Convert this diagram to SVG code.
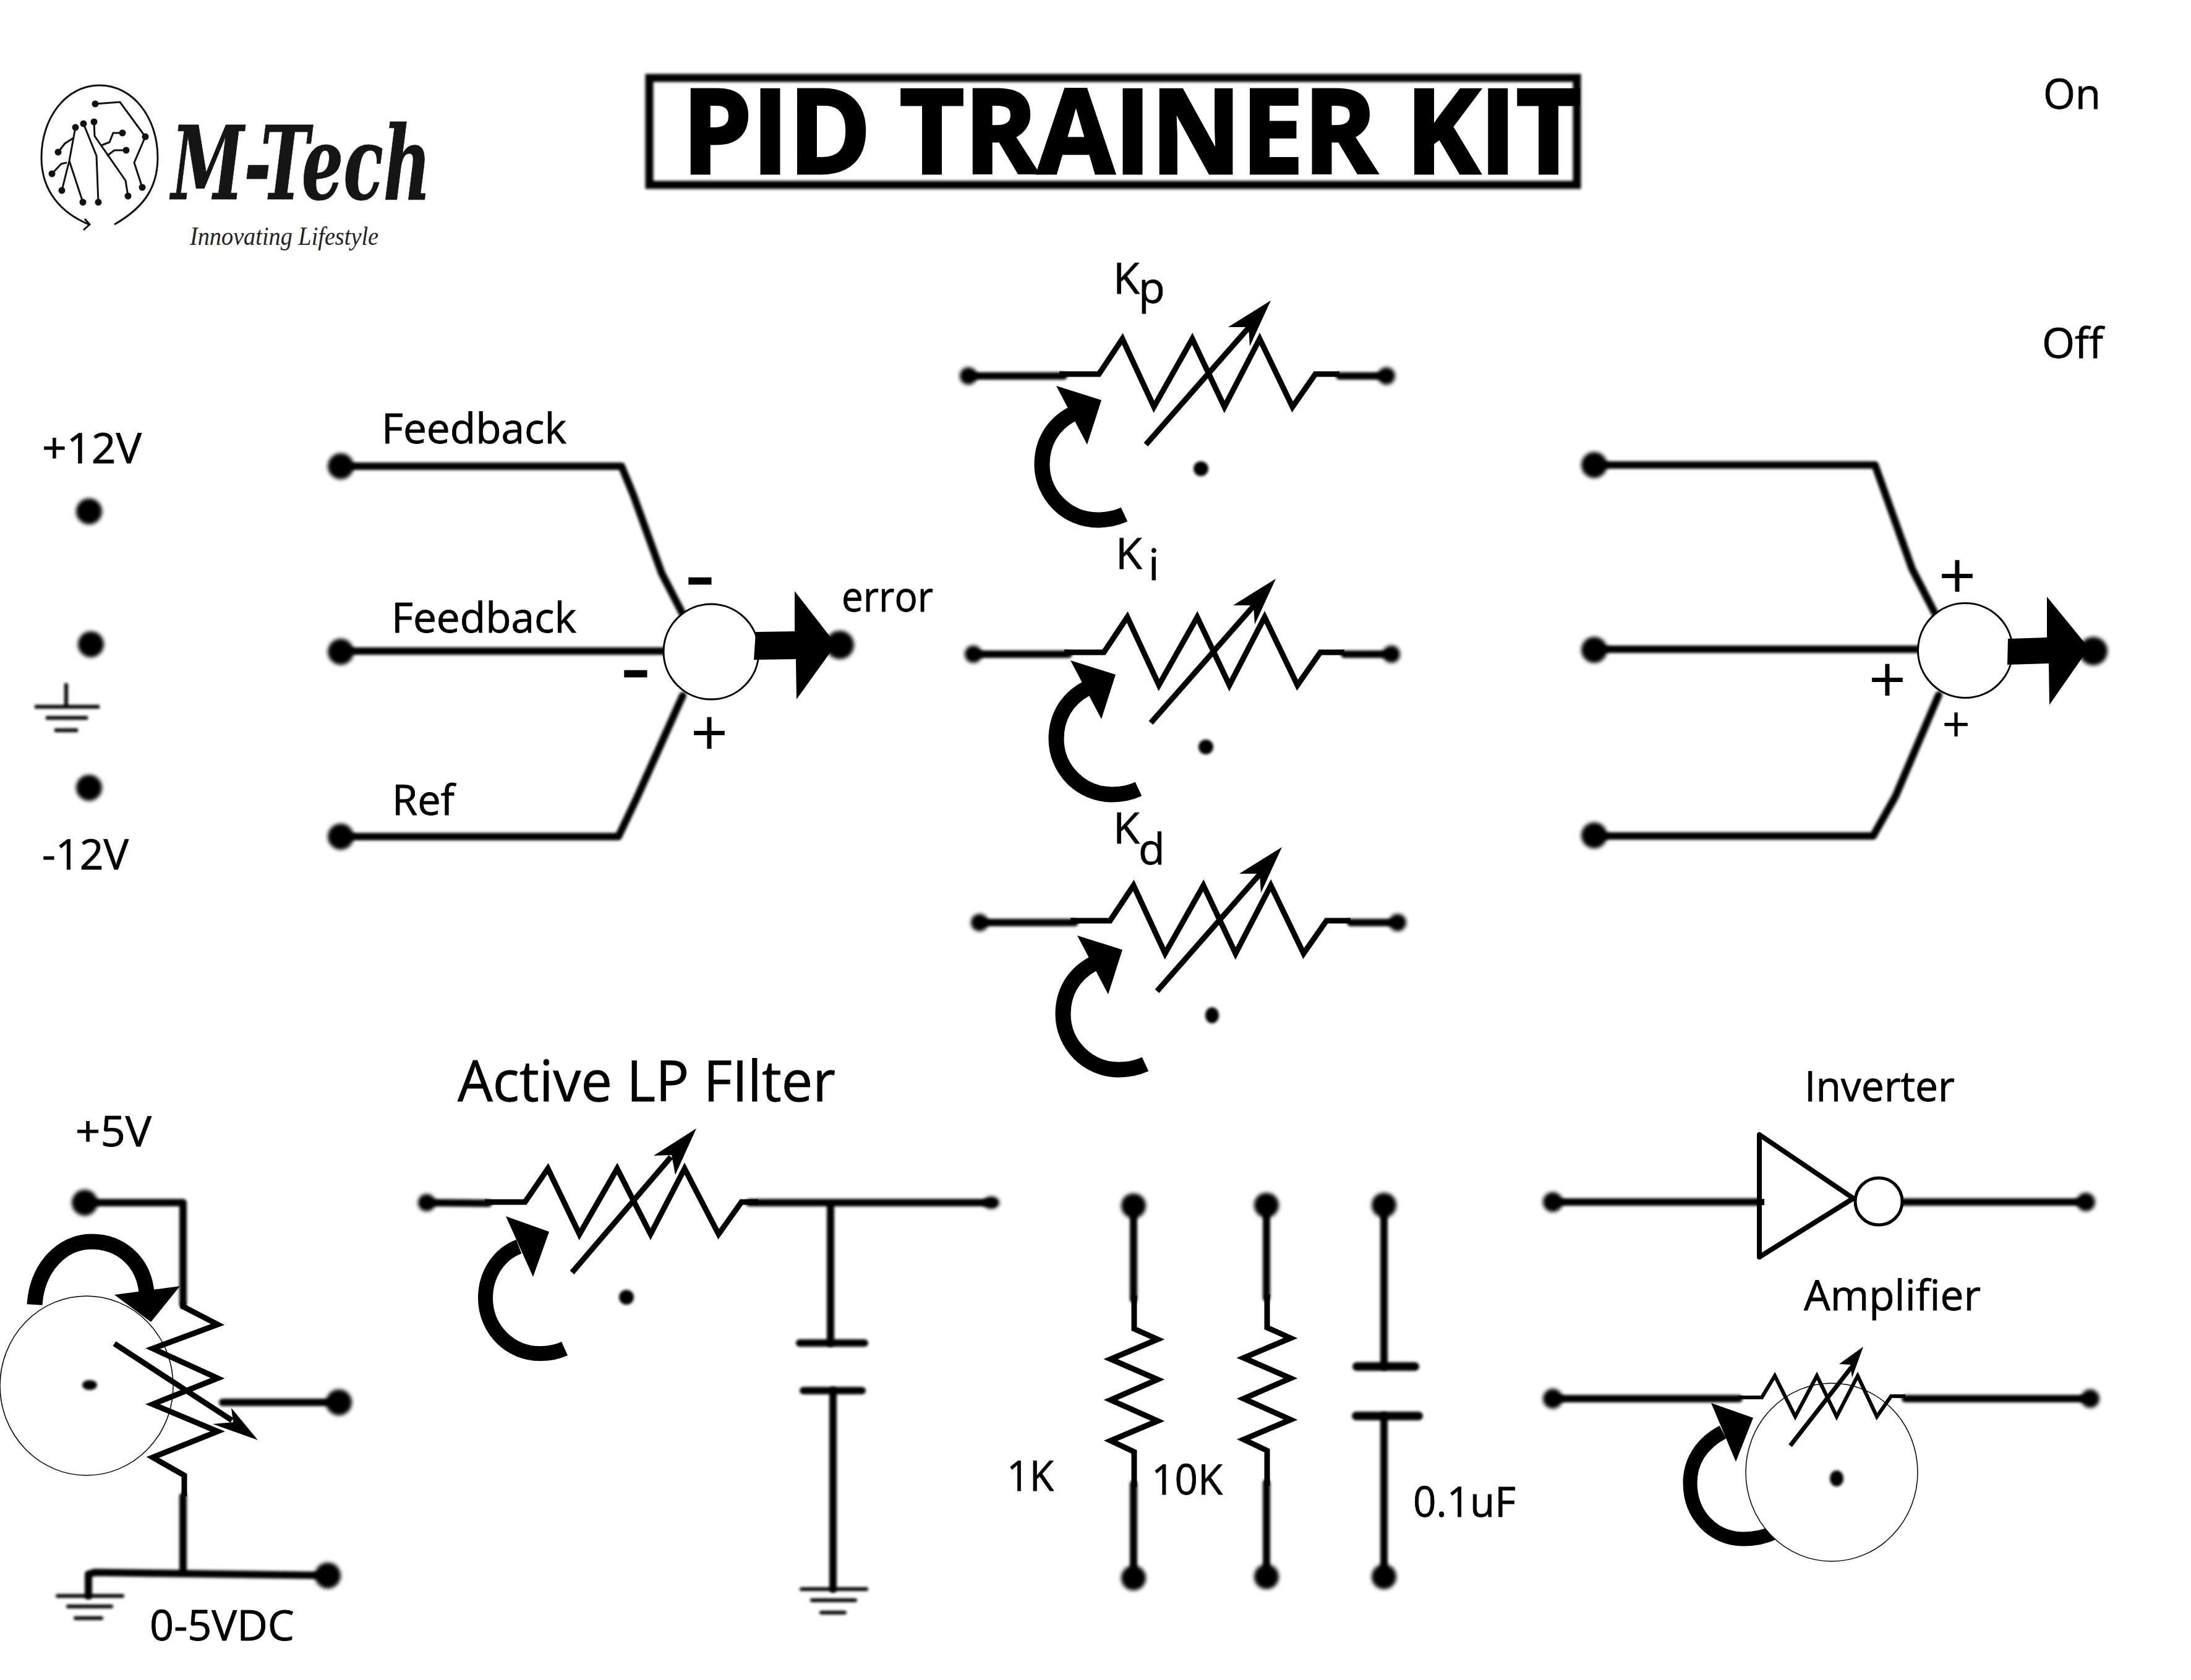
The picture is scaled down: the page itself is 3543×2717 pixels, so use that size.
<svg xmlns="http://www.w3.org/2000/svg" width="3543" height="2717" viewBox="0 0 3543 2717">
<style>
text{font-family:"Open Sans","Noto Sans","DejaVu Sans",sans-serif;fill:#000;font-size:68px;stroke:#000;stroke-width:.8px}
.w{fill:none;stroke:#000;stroke-width:12;stroke-linejoin:round;stroke-linecap:round}
.t{fill:none;stroke:#000;stroke-width:9;stroke-linejoin:miter;stroke-linecap:butt}
.a{fill:#000;stroke:none}
.d{fill:#000;stroke:none}
.k{fill:none;stroke:#000;stroke-width:25;stroke-linecap:butt}
.c{fill:#fff;stroke:#000}
.l{fill:none;stroke:#111;stroke-width:3;stroke-linejoin:miter}
.ld{fill:#111}
.sign{text-anchor:middle}
</style>
<defs>
<filter id="soft" filterUnits="userSpaceOnUse" x="0" y="0" width="3543" height="2717"><feGaussianBlur stdDeviation="2"/></filter>
<filter id="softer" filterUnits="userSpaceOnUse" x="0" y="0" width="3543" height="2717"><feGaussianBlur stdDeviation="3"/></filter>
<g id="varres">
<polyline class="t" points="1713,605 1777,605 1815,548 1866,658 1928,548 1980,658 2037,548 2090,658 2127,605 2166,605"/>
<line class="t" x1="1853" y1="719" x2="2020" y2="529" stroke-width="10"/>
<polygon class="a" points="2055,486 1986,529 2019,529 2021,560"/>
</g>
<g id="knob">
<path class="k" d="M1733,670C1700,688 1685,718 1685,751C1685,800 1725,841 1775,841C1790,841 1805,838 1818,832"/>
<polygon class="a" points="1708,624 1781,647 1758,719"/>
</g>
</defs>
<rect width="3543" height="2717" fill="#fff"/>

<g id="connectors" filter="url(#soft)">
<polyline class="w" points="551,754 1005,754 1024,800 1070,927 1104,993"/>
<polyline class="w" points="551,1053 1100,1053"/>
<polyline class="w" points="551,1353 1000,1353 1030,1290 1104,1125"/>
<polyline class="w" points="2578,752 3032,752 3092,920 3129,992"/>
<polyline class="w" points="2578,1050 3110,1050"/>
<polyline class="w" points="2578,1352 3029,1352 3065,1288 3135,1124"/>
<polyline class="w" points="1566,608 1720,608"/><polyline class="w" points="2166,608 2242,608"/>
<polyline class="w" points="1574,1058 1728,1058"/><polyline class="w" points="2174,1058 2250,1058"/>
<polyline class="w" points="1584,1492 1738,1492"/><polyline class="w" points="2184,1492 2260,1492"/>
<polyline class="w" points="135,1945 296,1945 296,2110"/>
<polyline class="w" points="296,2420 296,2545"/>
<polyline class="w" points="360,2268 548,2268"/>
<polyline class="w" points="143,2581 143,2546 153,2543 530,2548"/>
<polyline class="w" points="687,1945 790,1946"/>
<polyline class="w" points="1212,1945 1606,1945"/>
<polyline class="w" points="1343,1945 1343,2172"/>
<polyline class="w" points="1347,2249 1347,2570"/>
<polyline class="w" points="1833,1950 1833,2101"/><polyline class="w" points="1833,2400 1833,2552"/>
<polyline class="w" points="2048,1949 2048,2099"/><polyline class="w" points="2048,2398 2048,2550"/>
<polyline class="w" points="2238,1949 2238,2210"/><polyline class="w" points="2238,2290 2238,2550"/>
<polyline class="w" points="2511,1944 2854,1944"/><polyline class="w" points="3077,1944 3373,1944"/>
<polyline class="w" points="2511,2262 2812,2262"/><polyline class="w" points="3081,2262 3380,2262"/>
</g>

<g id="terminals" filter="url(#softer)">
<g id="t-supply-pos"><circle class="d" cx="144" cy="827" r="21"/></g>
<g id="t-supply-gnd"><circle class="d" cx="147" cy="1042" r="21"/></g>
<g id="t-supply-neg"><circle class="d" cx="144" cy="1274" r="21"/></g>
<g id="t-sum1-a"><circle class="d" cx="551" cy="754" r="21"/></g>
<g id="t-sum1-b"><circle class="d" cx="551" cy="1054" r="21"/></g>
<g id="t-sum1-c"><circle class="d" cx="551" cy="1353" r="21"/></g>
<g id="t-sum1-out"><circle class="d" cx="1358" cy="1043" r="23"/></g>
<g id="t-sum2-a"><circle class="d" cx="2578" cy="752" r="21"/></g>
<g id="t-sum2-b"><circle class="d" cx="2578" cy="1051" r="21"/></g>
<g id="t-sum2-c"><circle class="d" cx="2578" cy="1351" r="21"/></g>
<g id="t-sum2-out"><circle class="d" cx="3385" cy="1053" r="23"/></g>
<g id="t-kp-l"><circle class="d" cx="1566" cy="608" r="14"/></g>
<g id="t-kp-r"><circle class="d" cx="2242" cy="608" r="14"/></g>
<g id="t-ki-l"><circle class="d" cx="1574" cy="1058" r="14"/></g>
<g id="t-ki-r"><circle class="d" cx="2250" cy="1058" r="14"/></g>
<g id="t-kd-l"><circle class="d" cx="1584" cy="1492" r="14"/></g>
<g id="t-kd-r"><circle class="d" cx="2260" cy="1492" r="14"/></g>
<g id="t-5v"><circle class="d" cx="137" cy="1945" r="21"/></g>
<g id="t-wiper"><circle class="d" cx="548" cy="2268" r="21"/></g>
<g id="t-0v"><circle class="d" cx="530" cy="2548" r="21"/></g>
<g id="t-lp-in"><circle class="d" cx="690" cy="1945" r="14"/></g>
<g id="t-lp-out"><ellipse class="d" cx="1603" cy="1945" rx="13" ry="10"/></g>
<g id="t-r1-top"><circle class="d" cx="1833" cy="1950" r="20"/></g>
<g id="t-r1-bot"><circle class="d" cx="1833" cy="2552" r="20"/></g>
<g id="t-r2-top"><circle class="d" cx="2048" cy="1949" r="20"/></g>
<g id="t-r2-bot"><circle class="d" cx="2048" cy="2550" r="20"/></g>
<g id="t-c-top"><circle class="d" cx="2238" cy="1949" r="20"/></g>
<g id="t-c-bot"><circle class="d" cx="2238" cy="2550" r="20"/></g>
<g id="t-inv-l"><circle class="d" cx="2511" cy="1944" r="16"/></g>
<g id="t-inv-r"><circle class="d" cx="3373" cy="1944" r="15"/></g>
<g id="t-amp-l"><circle class="d" cx="2511" cy="2262" r="16"/></g>
<g id="t-amp-r"><circle class="d" cx="3380" cy="2262" r="15"/></g>
</g>

<g id="logo">
<path class="l" d="M185,363C225,340 255,310 255,255C255,190 215,138 161,138C107,138 67,190 67,255C67,310 100,345 144,363"/>
<polyline class="l" points="137,354 145,363 135,372"/>
<polyline class="l" stroke-width="4" points="154,168 194,165 235,221 217,263 230,303"/>
<polyline class="l" points="122,206 112,260 100,308"/>
<polyline class="l" points="112,260 134,327"/>
<polyline class="l" points="135,200 156,252 159,327"/>
<polyline class="l" points="152,197 153,220 203,292 207,317"/>
<polyline class="l" points="119,223 105,232 94,246"/>
<polyline class="l" points="108,263 99,265 84,281"/>
<polyline class="l" points="164,235 177,230 183,215 198,215"/>
<polyline class="l" points="173,252 185,243 204,243"/>
<circle class="ld" cx="154" cy="168" r="5.5"/><circle class="ld" cx="235" cy="221" r="5.5"/><circle class="ld" cx="230" cy="303" r="5.5"/>
<circle class="ld" cx="122" cy="206" r="5.5"/><circle class="ld" cx="100" cy="308" r="5.5"/><circle class="ld" cx="134" cy="327" r="5.5"/>
<circle class="ld" cx="135" cy="200" r="5.5"/><circle class="ld" cx="159" cy="327" r="5.5"/><circle class="ld" cx="152" cy="197" r="5.5"/>
<circle class="ld" cx="207" cy="317" r="5.5"/><circle class="ld" cx="94" cy="246" r="5.5"/><circle class="ld" cx="84" cy="281" r="5.5"/>
<circle class="ld" cx="198" cy="215" r="5.5"/><circle class="ld" cx="204" cy="243" r="5.5"/>
<text x="277" y="322" style="font-family:'DejaVu Serif','Liberation Serif',serif;font-weight:700;font-style:italic;font-size:164px;fill:#151515;stroke:#151515;stroke-width:1px" textLength="420" lengthAdjust="spacingAndGlyphs">M-Tech</text>
<text x="307" y="396" style="font-family:'Liberation Serif',serif;font-style:italic;font-size:42px;fill:#222;stroke:none" textLength="305" lengthAdjust="spacingAndGlyphs">Innovating Lifestyle</text>
</g>

<g id="title">
<rect x="1050" y="126" width="1500" height="173" fill="none" stroke="#000" stroke-width="13" filter="url(#soft)"/>
<text x="1103" y="280" style="font-weight:700;font-size:189px;stroke-width:5px" textLength="1453" lengthAdjust="spacingAndGlyphs">PID TRAINER KIT</text>
</g>

<g id="switch-labels">
<text x="3304" y="176" textLength="93" lengthAdjust="spacingAndGlyphs">On</text>
<text x="3302" y="579" textLength="99" lengthAdjust="spacingAndGlyphs">Off</text>
</g>

<g id="supply">
<text x="68" y="749" textLength="161" lengthAdjust="spacingAndGlyphs">+12V</text>
<text x="68" y="1406" textLength="140" lengthAdjust="spacingAndGlyphs">-12V</text>
<g filter="url(#soft)"><path class="w" style="stroke-width:6;stroke-linecap:butt" d="M107,1105V1143M56,1143H161M74,1161H142M88,1181H126"/></g>
</g>

<g id="sum-error">
<circle class="c" cx="1150" cy="1054" r="77" stroke-width="3"/>
<polygon class="a" points="1222,1022 1285,1021 1285,956 1352,1042 1288,1131 1287,1066 1219,1067"/>
<text x="617" y="717" textLength="299" lengthAdjust="spacingAndGlyphs">Feedback</text>
<text x="633" y="1023" textLength="299" lengthAdjust="spacingAndGlyphs">Feedback</text>
<text x="634" y="1318" textLength="101" lengthAdjust="spacingAndGlyphs">Ref</text>
<text x="1361" y="989" textLength="148" lengthAdjust="spacingAndGlyphs">error</text>
<text class="sign" x="1132" y="980" style="font-size:150px">-</text>
<text class="sign" x="1028" y="1130" style="font-size:150px">-</text>
<text class="sign" x="1147" y="1223" style="font-size:106px;stroke:none">+</text>
</g>

<g id="sum-output">
<circle class="c" cx="3178" cy="1052" r="76.5" stroke-width="3"/>
<polygon class="a" points="3247,1033 3310,1031 3310,965 3378,1048 3314,1140 3313,1073 3246,1075"/>
<text class="sign" x="3165" y="969" style="font-size:106px;stroke:none">+</text>
<text class="sign" x="3052" y="1137" style="font-size:106px;stroke:none">+</text>
<text class="sign" x="3163" y="1200" style="font-size:80px;stroke:none">+</text>
</g>

<g id="kp">
<use href="#knob"/>
<use href="#varres"/>
<circle class="d" cx="1942" cy="758" r="12" filter="url(#soft)"/>
<text x="1800" y="475" style="font-size:70px">K<tspan x="1841" y="490">p</tspan></text>
</g>
<g id="ki">
<use href="#knob" transform="translate(23 444)"/>
<use href="#varres" transform="translate(8 450)"/>
<circle class="d" cx="1950" cy="1208" r="12" filter="url(#soft)"/>
<text x="1804" y="920" style="font-size:70px">K<tspan x="1857" y="938">i</tspan></text>
</g>
<g id="kd">
<use href="#knob" transform="translate(34 889)"/>
<use href="#varres" transform="translate(18 884)"/>
<ellipse class="d" cx="1960" cy="1642" rx="11" ry="13" filter="url(#soft)"/>
<text x="1800" y="1364" style="font-size:70px">K<tspan x="1841" y="1398">d</tspan></text>
</g>

<g id="pot-0-5v">
<path class="k" d="M56,2110C60,2050 100,2008 148,2008C195,2008 232,2040 237,2090"/>
<polygon class="a" points="185,2094 291,2080 244,2138"/>
<ellipse cx="140" cy="2241" rx="140" ry="145" fill="#fff" stroke="#000" stroke-width="1.5"/>
<ellipse class="d" cx="145" cy="2240" rx="12" ry="8" filter="url(#soft)"/>
<polyline class="t" points="296,2105 296,2113 352,2142 247,2181 352,2229 247,2271 352,2315 247,2357 298,2386 298,2420"/>
<line class="t" x1="185" y1="2173" x2="375" y2="2297"/>
<polygon class="a" points="417,2329 344,2303 377,2300 374,2277"/>
<text x="122" y="1854" textLength="123" lengthAdjust="spacingAndGlyphs">+5V</text>
<text x="242" y="2653" textLength="234" lengthAdjust="spacingAndGlyphs">0-5VDC</text>
<g filter="url(#soft)"><path class="w" style="stroke-width:6;stroke-linecap:round" d="M93,2581H198M110,2598H180M122,2617H164"/></g>
</g>

<g id="lp-filter">
<path class="k" style="stroke-width:24" d="M839,2016C803,2030 785,2065 785,2099C785,2150 825,2190 875,2189C890,2189 902,2186 913,2181"/>
<polygon class="a" points="818,1967 888,1992 862,2065"/>
<polyline class="t" points="784,1944 849,1944 886,1890 937,1996 998,1890 1052,1996 1107,1890 1162,1996 1199,1944 1226,1944"/>
<line class="t" x1="925" y1="2058" x2="1085" y2="1871"/>
<polygon class="a" points="1126,1825 1057,1869 1086,1868 1092,1900"/>
<circle class="d" cx="1013" cy="2098" r="12" filter="url(#soft)"/>
<text x="740" y="1781" style="font-size:92px" textLength="611" lengthAdjust="spacingAndGlyphs">Active LP FIlter</text>
<g filter="url(#soft)"><path class="w" d="M1293,2172H1398M1299,2249H1394"/><path class="w" style="stroke-width:6" d="M1296,2570H1401M1313,2588H1383M1328,2608H1366"/></g>
</g>

<g id="r-1k">
<polyline class="t" points="1834,2095 1834,2149 1872,2166 1796,2198 1872,2231 1796,2264 1872,2298 1796,2330 1834,2348 1834,2405"/>
<text x="1628" y="2411" textLength="76" lengthAdjust="spacingAndGlyphs">1K</text>
</g>
<g id="r-10k">
<polyline class="t" points="2049,2093 2049,2147 2087,2164 2011,2196 2087,2229 2011,2262 2087,2296 2011,2328 2049,2346 2049,2403"/>
<text x="1862" y="2417" textLength="115" lengthAdjust="spacingAndGlyphs">10K</text>
</g>
<g id="c-01uf">
<g filter="url(#soft)"><path class="w" style="stroke-width:14" d="M2194,2210H2288M2193,2290H2294"/></g>
<text x="2285" y="2453" textLength="166" lengthAdjust="spacingAndGlyphs">0.1uF</text>
</g>

<g id="inverter">
<polygon points="2845,1835 2845,2033 2997,1938" fill="#fff" stroke="#000" stroke-width="8" stroke-linejoin="round"/>
<line x1="2840" y1="1944" x2="2853" y2="1944" stroke="#000" stroke-width="10"/>
<circle class="c" cx="3038" cy="1943" r="38" stroke-width="5"/>
<text x="2918" y="1781" textLength="243" lengthAdjust="spacingAndGlyphs">Inverter</text>
</g>

<g id="amplifier">
<path class="k" style="stroke-width:23" d="M2786,2316C2750,2335 2733,2365 2733,2398C2733,2450 2770,2489 2820,2489C2840,2489 2855,2485 2870,2478"/>
<polygon class="a" points="2767,2269 2835,2293 2807,2364"/>
<ellipse cx="2962" cy="2381" rx="139" ry="144" fill="#fff" stroke="#000" stroke-width="1.5"/>
<ellipse class="d" cx="2970" cy="2391" rx="11" ry="13" filter="url(#soft)"/>
<polyline class="t" style="stroke-width:6" points="2810,2260 2849,2260 2870,2225 2903,2291 2938,2225 2970,2291 3004,2225 3035,2291 3058,2258 3081,2258"/>
<line class="t" style="stroke-width:7" x1="2895" y1="2338" x2="2994" y2="2211"/>
<polygon class="a" points="3013,2178 2974,2206 2992,2207 2995,2228"/>
<text x="2917" y="2119" textLength="286" lengthAdjust="spacingAndGlyphs">Amplifier</text>
</g>
</svg>
